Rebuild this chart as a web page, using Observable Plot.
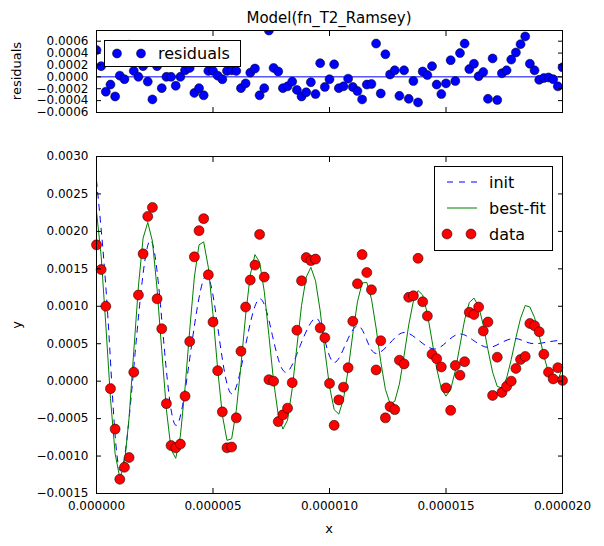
<!DOCTYPE html>
<html>
<head>
<meta charset="utf-8">
<script src="https://cdn.jsdelivr.net/npm/d3@7"></script>
<script src="https://cdn.jsdelivr.net/npm/@observablehq/plot@0.6"></script>
<style>
  body { margin: 0; background: white; font-family: "DejaVu Sans", sans-serif; }
  #fig { position: relative; width: 604px; height: 546px; }
  #fig > svg, #fig > div { position: absolute; }
  .lab { font-size: 13px; color: black; white-space: nowrap; }
  .legend { background: white; border: 1px solid black; box-sizing: border-box; }
</style>
</head>
<body>
<div id="fig">
  <div id="residPanel" style="left:0;top:0"></div>
  <div id="fitPanel" style="left:0;top:130px"></div>
</div>
<script>
// values in units of 1e-4, sampled every 0.2e-6 s
const UNIT = 1e-4;
const sampleX = d3.range(101).map((k) => k * 2e-7);

const fitVals = [
  22.7, 16.7, 7.5, -2.3, -9.7, -12.9, -11.1, -4.8, 4.0, 12.7,
  19.1, 21.2, 18.7, 12.3, 4.1, -3.8, -9.1, -10.3, -7.3, -0.9,
  6.8, 13.9, 18.2, 18.6, 15.2, 8.9, 1.6, -4.5, -7.9, -7.7,
  -3.9, 2.1, 8.8, 14.2, 16.9, 15.9, 12.0, 6.1, 0.0, -4.5,
  -6.4, -5.2, -1.0, 4.6, 10.1, 13.9, 15.2, 13.4, 9.4, 4.1,
  -0.7, -3.8, -4.4, -2.4, 1.5, 6.3, 10.6, 13.1, 13.2, 11.0,
  7.1, 2.6, -1.1, -3.0, -2.7, -0.4, 3.4, 7.5, 10.7, 12.1,
  11.5, 9.0, 5.4, 1.7, -1.0, -2.0, -1.1, 1.4, 4.8, 8.2,
  10.5, 11.1, 10.0, 7.5, 4.2, 1.2, -0.7, -0.9, 0.4, 2.9,
  5.8, 8.4, 10.1, 9.9, 8.5, 6.1, 3.4, 1.1, -0.1, 0.2, 1.7
];

const dataVals = [
  18.2, 14.9, 10.0, -1.0, -6.4, -13.1, -11.5, -10.2, 1.2, 11.5,
  17.0, 22.0, 23.2, 11.0, 7.0, -3.0, -8.6, -8.9, -8.4, -2.0,
  5.3, 16.6, 20.1, 21.7, 14.2, 7.9, 1.4, -4.1, -8.9, -8.8,
  -4.9, 4.0, 9.9, 13.5, 15.5, 19.6, 13.9, 0.2, 0.0, -5.4,
  -4.5, -3.6, -0.2, 6.8, 13.4, 16.5, 16.1, 16.3, 7.1, 5.8,
  -0.3, -5.9, -2.5, -0.8, 1.8, 8.0, 13.0, 16.9, 14.5, 12.2,
  1.5, 5.4, -4.9, -3.4, -3.8, 2.8, 2.3, 11.2, 11.4, 16.4,
  10.6, 8.7, 3.6, 3.0, 1.9, -0.9, -3.9, 2.1, 0.8, 2.6,
  9.2, 8.9, 9.9, 6.7, 7.9, -1.9, 3.2, -1.5, -0.7, 0.0,
  1.7, 2.9, 3.3, 7.7, 7.4, 6.6, 3.6, 1.2, 0.3, 1.8, 0.1
];

const residVals = [
  4.5, 1.8, -2.5, -1.3, -3.3, 0.2, -0.4, 5.4, 1.0, 0.0,
  1.8, -0.8, -3.8, 1.8, -1.9, 0.0, 0.0, -1.5, 0.0, 1.1,
  1.5, -2.7, -1.9, -3.1, 1.0, 1.0, 0.2, -0.4, 1.0, 1.1,
  1.0, -1.9, -1.1, 0.7, 1.4, -3.1, -1.9, 7.8, 1.5, 0.9,
  -1.9, -1.6, -0.8, -2.2, -3.3, -2.6, -0.9, -2.9, 2.3, -1.7,
  -0.4, 2.1, -1.9, -1.6, -0.3, -1.7, -2.4, -3.8, -1.3, -1.2,
  5.6, -2.8, 3.8, 0.4, 1.1, -3.2, 1.1, -3.7, -0.7, -4.3,
  0.9, 0.3, 1.8, -1.3, -2.9, -1.1, 2.8, -0.7, 4.0, 5.6,
  1.3, 2.2, 0.1, 0.8, -3.7, 3.1, -3.9, 0.6, 1.1, 2.9,
  4.1, 5.5, 6.8, 2.2, 1.1, -0.5, -0.2, -0.1, -0.4, -1.6, 1.6
];

// init curve knots (x in 1e-6 s)
const initX = [0, 0.5, 1.0, 1.65, 2.3, 2.85, 3.4, 4.05, 4.7, 5.25, 5.8, 6.4, 7.0, 7.55, 8.1,
  8.75, 9.4, 9.8, 10.2, 10.7, 11.2, 11.6, 12.0, 12.6, 13.2, 13.85, 14.5, 15.05, 15.6,
  16.2, 16.8, 17.35, 17.9, 18.35, 18.8, 19.4, 20.0];
const initY = [26.8, 8.0, -11.9, 3.5, 18.8, 6.5, -5.9, 4.1, 14.1, 6.2, -1.7, 4.8, 11.0, 6.1, 1.2,
  4.8, 8.4, 5.5, 2.5, 5.0, 7.4, 5.5, 3.7, 5.1, 6.5, 5.4, 4.3, 5.3, 6.3,
  5.4, 4.5, 5.1, 5.7, 5.35, 5.0, 5.25, 5.5];

const xTicks = [0, 5e-6, 1e-5, 1.5e-5, 2e-5];
const yTicks = [-0.0015, -0.001, -0.0005, 0, 0.0005, 0.001, 0.0015, 0.002, 0.0025, 0.003];
const rTicks = [-0.0006, -0.0004, -0.0002, 0, 0.0002, 0.0004, 0.0006];

const fitPts = sampleX.map((x, i) => ({ x, y: fitVals[i] * UNIT }));
const dataPts = sampleX.map((x, i) => ({ x, y: dataVals[i] * UNIT }));
const residPts = sampleX.map((x, i) => ({ x, y: residVals[i] * UNIT }));
const initPts = initX.map((x, i) => ({ x: x * 1e-6, y: initY[i] * UNIT }));

const style = { fontFamily: "DejaVu Sans", fontSize: "12px", color: "black", background: "white", overflow: "visible" };
const blank = () => "";

function frameAxes(yt, fmtX) {
  return [
    Plot.frame({ stroke: "black", strokeWidth: 1 }),
    Plot.axisX({ anchor: "bottom", ticks: xTicks, tickSize: -5, tickPadding: 13, tickFormat: fmtX, label: null }),
    Plot.axisX({ anchor: "top", ticks: xTicks, tickSize: -5, tickFormat: blank, label: null }),
    Plot.axisY({ anchor: "left", ticks: yt, tickSize: -5, tickPadding: 13, tickFormat: d3.format(".4f"), label: null }),
    Plot.axisY({ anchor: "right", ticks: yt, tickSize: -5, tickFormat: blank, label: null }),
  ];
}

const residChart = Plot.plot({
  width: 604, height: 130,
  marginLeft: 96, marginRight: 42, marginTop: 30, marginBottom: 18,
  style,
  x: { domain: [0, 2e-5] },
  y: { domain: [-0.0006, 0.00078] },
  marks: [
    Plot.ruleY([0], { stroke: "#0000ff", strokeWidth: 1 }),
    Plot.dot(residPts, { x: "x", y: "y", r: 4.5, fill: "#0000ff", stroke: "black", strokeWidth: 0.5, clip: true }),
    ...frameAxes(rTicks, blank),
  ],
});
document.getElementById("residPanel").appendChild(residChart);

const fitChart = Plot.plot({
  width: 604, height: 416,
  marginLeft: 96, marginRight: 42, marginTop: 26, marginBottom: 53,
  style,
  x: { domain: [0, 2e-5] },
  y: { domain: [-0.0015, 0.003] },
  marks: [
    Plot.line(initPts, { x: "x", y: "y", stroke: "#0000ff", strokeWidth: 1, strokeDasharray: "6,6", curve: "natural" }),
    Plot.line(fitPts, { x: "x", y: "y", stroke: "#008000", strokeWidth: 1 }),
    Plot.dot(dataPts, { x: "x", y: "y", r: 5, fill: "#ff0000", stroke: "black", strokeWidth: 0.5 }),
    ...frameAxes(yTicks, d3.format(".6f")),
  ],
});
document.getElementById("fitPanel").appendChild(fitChart);

// titles, axis labels and legends
const fig = document.getElementById("fig");
function addText(txt, left, topPx, size, rotate) {
  const d = document.createElement("div");
  d.className = "lab";
  d.textContent = txt;
  d.style.left = left + "px";
  d.style.top = topPx + "px";
  d.style.fontSize = size + "px";
  d.style.transform = "translate(-50%,-50%)" + (rotate ? " rotate(-90deg)" : "");
  fig.appendChild(d);
}
addText("Model(fn_T2_Ramsey)", 329, 18, 15);
addText("residuals", 16, 71, 13, true);
addText("y", 16, 325, 13, true);
addText("x", 329, 528, 13);

const resLeg = document.createElement("div");
resLeg.className = "legend";
Object.assign(resLeg.style, { left: "104px", top: "40px", width: "137px", height: "27px" });
resLeg.innerHTML = `<svg width="135" height="25" style="font-family:'DejaVu Sans';font-size:16px">
  <circle cx="12" cy="12.5" r="4.5" fill="#0000ff" stroke="black" stroke-width="0.5"/>
  <circle cx="36" cy="12.5" r="4.5" fill="#0000ff" stroke="black" stroke-width="0.5"/>
  <text x="53" y="18">residuals</text></svg>`;
fig.appendChild(resLeg);

const fitLeg = document.createElement("div");
fitLeg.className = "legend";
Object.assign(fitLeg.style, { left: "434px", top: "166px", width: "119px", height: "85px" });
fitLeg.innerHTML = `<svg width="117" height="83" style="font-family:'DejaVu Sans';font-size:16px">
  <line x1="12" x2="42" y1="15" y2="15" stroke="#0000ff" stroke-dasharray="6,6"/>
  <text x="54" y="21">init</text>
  <line x1="12" x2="42" y1="41" y2="41" stroke="#008000"/>
  <text x="54" y="47">best-fit</text>
  <circle cx="12" cy="67" r="5" fill="#ff0000" stroke="black" stroke-width="0.5"/>
  <circle cx="36" cy="67" r="5" fill="#ff0000" stroke="black" stroke-width="0.5"/>
  <text x="54" y="73">data</text></svg>`;
fig.appendChild(fitLeg);
</script>
</body>
</html>
